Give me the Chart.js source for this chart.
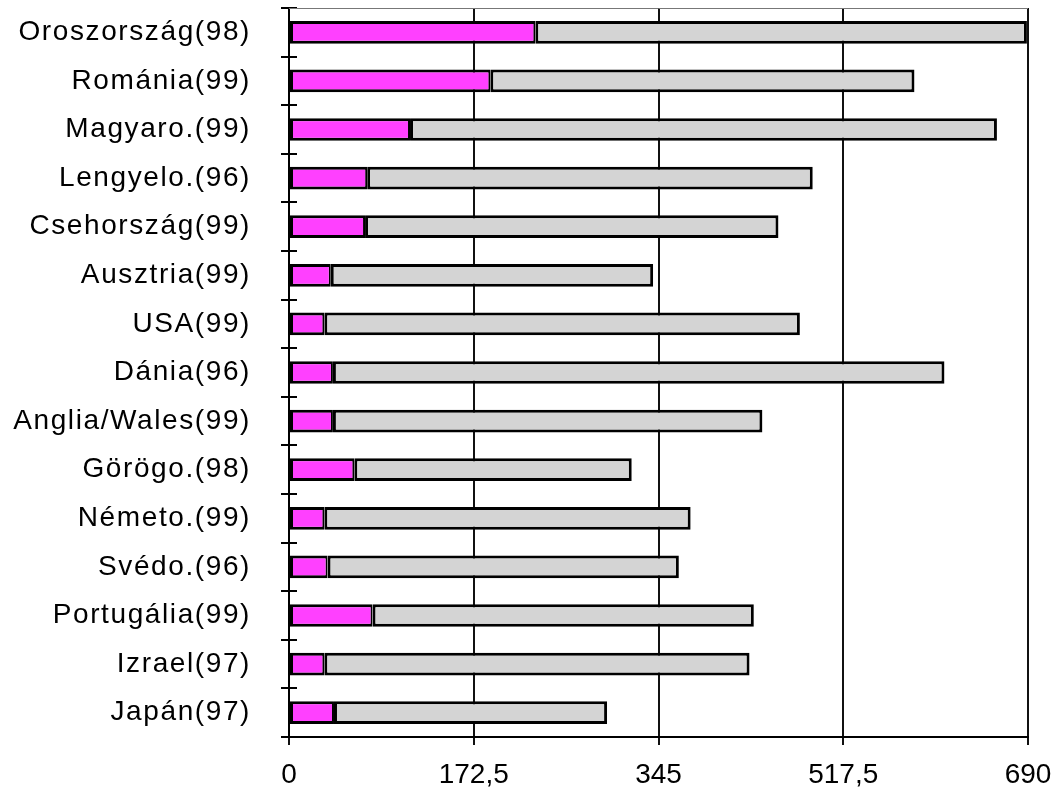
<!DOCTYPE html>
<html><head><meta charset="utf-8">
<script src="https://cdn.jsdelivr.net/npm/chart.js@4"></script>
<style>html,body{margin:0;padding:0;background:#fff}canvas{display:block}</style>
</head><body>
<canvas id="c" width="1058" height="787"></canvas>
<script>
const categories = ['Oroszország(98)','Románia(99)','Magyaro.(99)','Lengyelo.(96)','Csehország(99)','Ausztria(99)','USA(99)','Dánia(96)','Anglia/Wales(99)','Görögo.(98)','Németo.(99)','Svédo.(96)','Portugália(99)','Izrael(97)','Japán(97)'];
const magentaValues = [230, 188, 113, 73, 71, 39, 33, 41, 41, 61, 33, 36, 78, 33, 42];
const grayValues = [459, 396, 548, 416, 386, 301, 444, 571, 401, 259, 342, 328, 356, 397, 255];
const xTickValues = [0, 172.5, 345, 517.5, 690];
const xTickLabels = ['0', '172,5', '345', '517,5', '690'];

const FONT = {family: "'Liberation Sans', Arial, Helvetica, sans-serif", size: 28};

const decor = {
  id: 'decor',
  beforeDraw(chart) {
    const y = chart.scales.y;
    if (!y._lsPatched) {
      const orig = y.drawLabels;
      y.drawLabels = function(area) {
        const ctx = this.ctx;
        ctx.save();
        ctx.letterSpacing = '1.6px';
        orig.call(this, area);
        ctx.restore();
      };
      y._lsPatched = true;
    }
  },
  afterDraw(chart) {
    const {ctx, chartArea: a, scales: {y}} = chart;
    ctx.save();
    ctx.strokeStyle = '#000';
    ctx.lineWidth = 2;
    for (let i = 0; i <= categories.length; i++) {
      const p = Math.round(y.getPixelForValue(i - 0.5));
      ctx.beginPath();
      ctx.moveTo(a.left, p);
      ctx.lineTo(a.left + 8, p);
      ctx.stroke();
    }
    ctx.strokeStyle = '#777';
    ctx.lineWidth = 1;
    ctx.beginPath();
    ctx.moveTo(a.left, a.top + 0.5);
    ctx.lineTo(a.right, a.top + 0.5);
    ctx.stroke();
    ctx.restore();
  }
};

const zeroPad = s => { s.paddingTop = 0; s.paddingBottom = 0; s.paddingLeft = 0; s.paddingRight = 0; };

new Chart(document.getElementById('c'), {
  type: 'bar',
  data: {
    labels: categories,
    datasets: [
      {
        data: magentaValues,
        backgroundColor: '#FF40FF',
        borderColor: '#000',
        borderWidth: {top: 3, bottom: 3, left: 3, right: 2},
        borderSkipped: false,
        barPercentage: 0.467,
        categoryPercentage: 1
      },
      {
        data: grayValues,
        backgroundColor: '#D4D4D4',
        borderColor: '#000',
        borderWidth: 3,
        borderSkipped: false,
        barPercentage: 0.467,
        categoryPercentage: 1
      }
    ]
  },
  options: {
    indexAxis: 'y',
    responsive: false,
    animation: false,
    layout: {padding: {top: 8, right: 30, left: 0, bottom: 0}},
    plugins: {legend: {display: false}, tooltip: {enabled: false}},
    scales: {
      x: {
        stacked: true,
        min: 0,
        max: 690,
        afterBuildTicks: s => { s.ticks = xTickValues.map(v => ({value: v})); },
        afterFit: s => { s.height = 50; zeroPad(s); },
        grid: {color: '#111', lineWidth: 2, tickLength: 8},
        border: {color: '#000', width: 2},
        ticks: {
          font: FONT, color: '#000', padding: 13, maxRotation: 0, autoSkip: false,
          callback: (v, i) => xTickLabels[i]
        }
      },
      y: {
        stacked: true,
        afterFit: s => { s.width = 289; zeroPad(s); },
        grid: {drawOnChartArea: false, color: '#000', lineWidth: 2, tickLength: 8},
        border: {color: '#000', width: 2},
        ticks: {font: FONT, color: '#000', padding: 30, autoSkip: false}
      }
    }
  },
  plugins: [decor]
});
</script>
</body></html>
